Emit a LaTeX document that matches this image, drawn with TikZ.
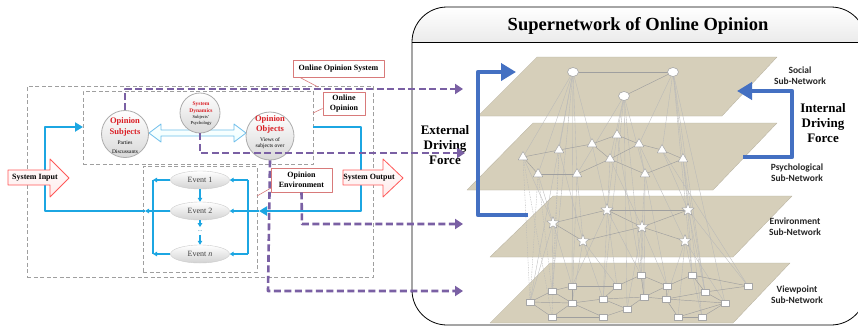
\documentclass[tikz,border=0pt]{standalone}
\usepackage{fontspec}
\setmainfont{Liberation Serif}
\newfontfamily\calib{Carlito}
\usetikzlibrary{arrows.meta,shapes.geometric,calc}
\definecolor{planec}{RGB}{214,207,186}
\definecolor{cyanl}{RGB}{28,166,226}
\definecolor{dblue}{RGB}{68,112,194}
\definecolor{purp}{RGB}{122,96,164}
\definecolor{pinkb}{RGB}{216,122,122}
\definecolor{redt}{RGB}{218,30,36}
\definecolor{lblue}{RGB}{110,190,235}
\begin{document}
\begin{tikzpicture}[x=1pt,y=-1pt,line join=round,
  gbox/.style={draw=gray!75,line width=0.7pt,dash pattern=on 4pt off 2.5pt,inner sep=0pt,anchor=north west},
  pdash/.style={draw=purp,line width=2.6pt,dash pattern=on 7pt off 3.5pt},
  ptip/.style={-{Triangle[length=8pt,width=10pt]}},
  callout/.style={draw=pinkb,fill=white,line width=0.8pt,font=\fontsize{8}{9.5}\selectfont\bfseries,align=center,inner sep=0pt},
  ptr/.style={draw=pinkb,line width=0.6pt},
  bub/.style={circle,draw=gray!65,line width=0.8pt,top color=white,bottom color=gray!30,inner sep=0pt},
  ev/.style={ellipse,draw=gray!40,line width=0.4pt,top color=white,bottom color=gray!35,minimum width=59pt,minimum height=18pt,inner sep=0pt,font=\fontsize{8}{9}\selectfont,text=black!75},
  bthick/.style={draw=cyanl,line width=2.6pt},
  bthin/.style={draw=cyanl,line width=1.2pt},
  ctip/.style={-{Triangle[length=4pt,width=4.5pt]}},
  ioarrow/.style={draw=red!65,line width=0.8pt,top color=white,bottom color=red!8},
  lab/.style={font=\calib\bfseries\fontsize{9.5}{11}\selectfont,align=center,text=black!85},
  dtext/.style={font=\fontsize{13}{15}\selectfont\bfseries,align=center},
  pl/.style={fill=planec,draw=planec!85!black,line width=0.3pt},
  net/.style={draw=gray!55,line width=0.35pt},
  netd/.style={draw=gray!55,line width=0.35pt,dash pattern=on 1.5pt off 1pt},
  inet/.style={draw=gray!75,line width=0.45pt},
  tri/.style={regular polygon,regular polygon sides=3,draw=gray!70,fill=white,line width=0.5pt,minimum size=11pt,inner sep=0pt},
  stw/.style={star,star points=5,star point ratio=2.3,draw=gray!70,fill=white,line width=0.5pt,minimum size=13pt,inner sep=0pt},
  sq/.style={rectangle,draw=gray!70,fill=white,line width=0.5pt,minimum width=7.5pt,minimum height=6pt,inner sep=0pt},
  cir/.style={ellipse,draw=gray!70,fill=white,line width=0.6pt,minimum width=11pt,minimum height=9pt,inner sep=0pt},
  dbl/.style={draw=dblue,line width=4.5pt},
  dtip/.style={-{Triangle[length=15pt,width=17pt]}},
]
\useasboundingbox (0,0) rectangle (858,327);
\clip (0,0) rectangle (858,327);
\fill[white] (0,0) rectangle (858,327);

%================ RIGHT PANEL ================
\begin{scope}
\clip[rounded corners=35pt] (412,7) rectangle (866,325);
\shade[top color=white,bottom color=gray!16] (412,7) rectangle (866,42);
\end{scope}
\draw[line width=0.8pt,rounded corners=35pt] (412,7) rectangle (866,325);
\draw[line width=0.6pt] (412,42) -- (866,42);
\node[font=\fontsize{18.5}{21}\selectfont\bfseries] (title) at (638,26) {Supernetwork of Online Opinion};

% planes
\path[pl] (537,57) -- (777,57) -- (722,116) -- (478,116) -- cycle;
\path[pl] (533,123) -- (777,123) -- (713,190) -- (467,190) -- cycle;
\path[pl] (553,196) -- (792,196) -- (733,257) -- (490,257) -- cycle;
\path[pl] (550,263) -- (790,263) -- (733,323) -- (490,323) -- cycle;

% node coordinates
\coordinate (S1) at (573,72); \coordinate (S2) at (673,72); \coordinate (S3) at (624,96);
\coordinate (P1) at (617,135); \coordinate (P2) at (592,144); \coordinate (P3) at (639,144);
\coordinate (P4) at (559,150); \coordinate (P5) at (662,150); \coordinate (P6) at (523,157);
\coordinate (P7) at (610,159); \coordinate (P8) at (683,159); \coordinate (P9) at (538,174);
\coordinate (P10) at (577,174); \coordinate (P11) at (645,174);
\coordinate (E1) at (607,210); \coordinate (E2) at (688,210); \coordinate (E3) at (553,223);
\coordinate (E4) at (642,227); \coordinate (E5) at (583,241); \coordinate (E6) at (685,241);
\coordinate (V1) at (641,275); \coordinate (V2) at (692,275); \coordinate (V3) at (572,286);
\coordinate (V4) at (617,286); \coordinate (V5) at (667,286); \coordinate (V6) at (748,286);
\coordinate (V7) at (552,291); \coordinate (V8) at (644,297); \coordinate (V9) at (705,292);
\coordinate (V10) at (603,299); \coordinate (V11) at (666,299); \coordinate (V12) at (530,302);
\coordinate (V13) at (572,303); \coordinate (V14) at (627,309); \coordinate (V15) at (725,303);
\coordinate (V16) at (552,317); \coordinate (V17) at (603,317); \coordinate (V18) at (678,317);
\coordinate (V19) at (702,317);

% inter-layer lines
\foreach \a/\b in {S1/P4,S1/P6,S1/P2,S1/P10,S1/P9,S3/P1,S3/P7,S3/P11,S3/P10,S2/P5,S2/P8,S2/P3,
  S1/V7,S1/V12,S1/V3,S3/V10,S3/V8,S3/V14,S2/V9,S2/V2,S2/V15,
  P4/E5,P6/E3,P9/E3,P10/E5,P7/E4,P11/E4,P8/E2,P5/E2,P1/E1,P2/E1,P3/E6,
  P10/V13,P7/V10,P11/V8,P8/V9,P5/V6,P1/V1,P8/V19,P3/V5,
  E3/V12,E3/V7,E3/V3,E5/V13,E5/V10,E5/V4,E1/V4,E1/V3,E4/V1,E4/V8,E4/V5,E4/V14,
  E2/V2,E2/V6,E2/V9,E6/V15,E6/V19,E6/V11,E6/V18,E1/V1}
  \draw[net] (\a) -- (\b);
\foreach \a/\b in {P6/V12,P9/V7,P4/V16,P6/V16,P9/V12,P4/V7}
  \draw[netd] (\a) -- (\b);

% within-layer edges
\foreach \a/\b in {S1/S2,S2/S3,
  P6/P9,P2/P7,P6/P4,P4/P2,P2/P1,P1/P3,P3/P5,P5/P8,P7/P11,P7/P3,P10/P7,P9/P10,P11/P8,
  E3/E1,E1/E4,E4/E2,E3/E5,E5/E4,E4/E6,E1/E2,
  V12/V7,V7/V3,V3/V4,V4/V1,V1/V5,V5/V2,V2/V6,V6/V9,V9/V15,V15/V19,V19/V18,V18/V11,V11/V8,
  V12/V16,V16/V13,V13/V10,V10/V14,V14/V8,V13/V7,V10/V4,V17/V13,V17/V14,V12/V13,V5/V11,
  V8/V5,V11/V15,V18/V15,V2/V9,V3/V13,V10/V8,V16/V17,V1/V8,V9/V11}
  \draw[inet] (\a) -- (\b);

% nodes
\foreach \n in {S1,S2,S3} \node[cir] at (\n) {};
\foreach \n in {P1,P2,P3,P4,P5,P6,P7,P8,P9,P10,P11} \node[tri] at (\n) {};
\foreach \n in {E1,E2,E3,E4,E5,E6} \node[stw] at (\n) {};
\foreach \n in {V1,V2,V3,V4,V5,V6,V7,V8,V9,V10,V11,V12,V13,V14,V15,V16,V17,V18,V19} \node[sq] at (\n) {};

% labels
\node[lab] (lsoc) at (800,75.5) {Social\\Sub-Network};
\node[lab] (lpsy) at (797,173) {Psychological\\Sub-Network};
\node[lab] (lenv) at (795,227) {Environment\\Sub-Network};
\node[lab] (lvie) at (797,295) {Viewpoint\\Sub-Network};

% driving forces
\coordinate (xb) at (528,215); \coordinate (xt) at (516,72);
\draw[dbl,dtip] (xb) -- (478,215) -- (478,72) -- (xt);
\coordinate (ib) at (743,157); \coordinate (it) at (737,91);
\draw[dbl,dtip] (ib) -- (792,157) -- (792,91) -- (it);
\node[dtext] (ext) at (445,145) {External\\Driving\\Force};
\node[dtext] (int) at (823,123) {Internal\\Driving\\Force};

%================ LEFT PART ================
\node[gbox,minimum width=346pt,minimum height=191pt] (sysbox) at (27,86) {};
\node[gbox,minimum width=230pt,minimum height=73pt] (oobox) at (83,91) {};
\node[gbox,minimum width=114pt,minimum height=106pt] (envbox) at (143,166) {};

% events
\node[ev] (e1) at (200,180) {Event 1};
\node[ev] (e2) at (200,211) {Event 2};
\node[ev] (en) at (200,254) {Event \textit{n}};
\node[font=\fontsize{6}{6}\selectfont,text=cyanl!70!black] (dots) at (200,231) {...};

\coordinate (jl) at (145,211); \coordinate (jr) at (259,211);
\coordinate (inL) at (83,127); \coordinate (outR) at (313,127);
\coordinate (lt) at (153,180); \coordinate (lb) at (153,254);
\coordinate (rt) at (248,180); \coordinate (rb) at (248,254);

% thick blue loop
\draw[bthick,-{Triangle[length=8pt,width=9pt]}] (jl) -- (45,211) -- (45,127) -- (inL);
\draw[bthick,-{Triangle[length=8pt,width=9pt]}] (outR) -- (361,127) -- (361,211) -- (jr);

% thin blue
\draw[bthin] (lt) -- (lb);
\draw[bthin] (rt) -- (rb);
\draw[bthin,ctip] (e1.west) -- (lt);
\draw[bthin,ctip] (en.west) -- (lb);
\draw[bthin,ctip] (e2.west) -- (jl);
\draw[bthin,ctip] (rt) -- (e1.east);
\draw[bthin,ctip] (rb) -- (en.east);
\draw[bthin,ctip] (jr) -- (e2.east);
\draw[bthin,ctip] (e1.south) -- (e2.north);
\draw[bthin,ctip] (e2.south) -- (dots.north);
\draw[bthin,ctip] (dots.south) -- (en.north);

% system input / output
\path[ioarrow] (8,170) -- (50,170) -- (50,159) -- (69,178) -- (50,197) -- (50,185) -- (8,185) -- cycle;
\node[font=\fontsize{8}{9}\selectfont\bfseries] (sin) at (35,178) {System Input};
\path[ioarrow] (343,170) -- (383,170) -- (383,159) -- (403,178) -- (383,197) -- (383,185) -- (343,185) -- cycle;
\node[font=\fontsize{8}{9}\selectfont\bfseries] (sout) at (369,178) {System Output};

% double hollow arrow
\path[draw=lblue,line width=0.8pt,top color=white,bottom color=cyan!8]
  (149,133) -- (161,124) -- (161,130) -- (234,130) -- (234,124) -- (246,133)
  -- (234,142) -- (234,136) -- (161,136) -- (161,142) -- cycle;

% purple dashed connectors
\coordinate (a1) at (463,89); \coordinate (a2) at (465,153);
\coordinate (a3) at (463,224); \coordinate (a4) at (463,291);

% circles
\node[bub,minimum size=47pt] (subj) at (125,134) {};
\node[bub,minimum size=40pt] (dyn) at (200,113) {};
\node[bub,minimum size=48pt] (obj) at (270,136) {};

\draw[pdash,ptip] (subj.north) -- (125,89) -- (a1);
\draw[pdash,ptip] (dyn.south) -- (200,153) -- (a2);
\draw[pdash,ptip] (obj.south) -- (268,291) -- (a4);

\node[font=\fontsize{8.5}{9}\selectfont\bfseries,text=redt] at (125,121) {Opinion};
\node[font=\fontsize{8.5}{9}\selectfont\bfseries,text=redt] at (125,132) {Subjects};
\node[font=\fontsize{5.5}{6}\selectfont] at (125,142.5) {Parties};
\node[font=\fontsize{5.5}{6}\selectfont] at (125,152) {Discussants};

\node[font=\fontsize{5.5}{6}\selectfont\bfseries,text=redt] at (201,104) {System};
\node[font=\fontsize{5.5}{6}\selectfont\bfseries,text=redt] at (201,111) {Dynamics};
\node[font=\fontsize{4.5}{5}\selectfont] at (201,117.5) {Subjects'};
\node[font=\fontsize{4.5}{5}\selectfont] at (201,123.5) {Psychology};

\node[font=\fontsize{8.5}{9}\selectfont\bfseries,text=redt] at (270,119) {Opinion};
\node[font=\fontsize{8.5}{9}\selectfont\bfseries,text=redt] at (270,129) {Objects};
\node[font=\fontsize{5.5}{6}\selectfont] at (270,139.5) {Views of};
\node[font=\fontsize{5.5}{6}\selectfont] at (270,146) {subjects over};

% callouts
\node[callout,minimum width=91pt,minimum height=17pt] (cos) at (338.5,69) {Online Opinion System};
\draw[ptr] (300,77.5) -- (318,87);
\node[callout,minimum width=42pt,minimum height=23pt] (coo) at (344,103.5) {Online\\Opinion};
\draw[ptr] (coo.west) ++(0,5) -- (313,113);
\node[callout,minimum width=61pt,minimum height=24pt] (cenv) at (301.5,180) {Opinion\\Environment};
\draw[ptr] (271,188) -- (257,196);
\draw[pdash,ptip] (cenv.south) -- (302,224) -- (a3);

\end{tikzpicture}
\end{document}
